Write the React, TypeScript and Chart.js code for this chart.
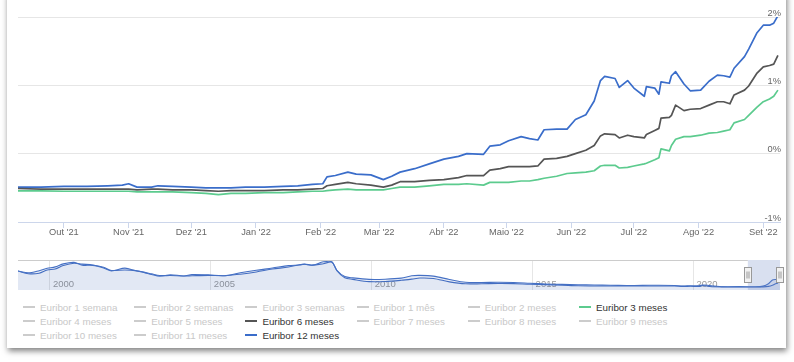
import React, { useEffect, useRef } from 'react';
import { Chart, registerables } from 'chart.js';

Chart.register(...registerables);

// ---------- Main chart data (Euribor, %) ----------
const mainDates = [
  '2021-09-09', '2021-09-20', '2021-10-01', '2021-10-12', '2021-10-22', '2021-10-29', '2021-11-01', '2021-11-05',
  '2021-11-12', '2021-11-15', '2021-11-22', '2021-12-01', '2021-12-08', '2021-12-14', '2021-12-20', '2021-12-27',
  '2022-01-05', '2022-01-14', '2022-01-21', '2022-01-28', '2022-02-02', '2022-02-04', '2022-02-08', '2022-02-14',
  '2022-02-18', '2022-02-25', '2022-03-03', '2022-03-07', '2022-03-11', '2022-03-18', '2022-03-25', '2022-04-01',
  '2022-04-08', '2022-04-12', '2022-04-20', '2022-04-23', '2022-04-28', '2022-05-02', '2022-05-08', '2022-05-12',
  '2022-05-16', '2022-05-19', '2022-05-25', '2022-05-30', '2022-06-03', '2022-06-08', '2022-06-12', '2022-06-15',
  '2022-06-17', '2022-06-22', '2022-06-24', '2022-06-28', '2022-07-01', '2022-07-06', '2022-07-07', '2022-07-11',
  '2022-07-13', '2022-07-14', '2022-07-18', '2022-07-19', '2022-07-21', '2022-07-25', '2022-07-28', '2022-08-02',
  '2022-08-06', '2022-08-10', '2022-08-13', '2022-08-16', '2022-08-18', '2022-08-23', '2022-08-25', '2022-08-29',
  '2022-09-01', '2022-09-04', '2022-09-06', '2022-09-08',
];

const euribor12m = [
  -0.49, -0.49, -0.48, -0.48, -0.47, -0.46, -0.44, -0.49,
  -0.49, -0.47, -0.48, -0.49, -0.50, -0.50, -0.50, -0.49,
  -0.49, -0.48, -0.47, -0.45, -0.44, -0.34, -0.32, -0.27,
  -0.30, -0.31, -0.38, -0.33, -0.27, -0.22, -0.15, -0.08,
  -0.04, 0.00, -0.01, 0.11, 0.13, 0.19, 0.25, 0.22,
  0.20, 0.35, 0.36, 0.36, 0.50, 0.57, 0.77, 1.07,
  1.13, 1.10, 0.97, 1.07, 0.96, 0.84, 0.98, 0.96,
  0.87, 1.05, 1.03, 1.14, 1.20, 1.02, 0.92, 0.93,
  1.06, 1.15, 1.14, 1.12, 1.25, 1.42, 1.53, 1.77,
  1.88, 1.88, 1.91, 2.02,
];

const euribor6m = [
  -0.51, -0.52, -0.52, -0.52, -0.52, -0.52, -0.52, -0.53,
  -0.52, -0.52, -0.53, -0.53, -0.54, -0.55, -0.54, -0.54,
  -0.54, -0.53, -0.53, -0.52, -0.51, -0.47, -0.45, -0.42,
  -0.44, -0.46, -0.49, -0.46, -0.41, -0.41, -0.39, -0.38,
  -0.35, -0.32, -0.32, -0.24, -0.22, -0.19, -0.19, -0.19,
  -0.18, -0.08, -0.07, -0.04, 0.00, 0.05, 0.12, 0.26,
  0.29, 0.28, 0.23, 0.27, 0.25, 0.23, 0.28, 0.34,
  0.37, 0.52, 0.53, 0.56, 0.71, 0.63, 0.65, 0.66,
  0.71, 0.76, 0.76, 0.73, 0.86, 0.93, 0.99, 1.18,
  1.27, 1.29, 1.31, 1.44,
];

const euribor3m = [
  -0.545, -0.545, -0.55, -0.55, -0.55, -0.55, -0.55, -0.56,
  -0.56, -0.56, -0.56, -0.57, -0.58, -0.60, -0.58, -0.58,
  -0.57, -0.57, -0.56, -0.55, -0.55, -0.54, -0.53, -0.52,
  -0.53, -0.53, -0.53, -0.51, -0.49, -0.49, -0.47, -0.45,
  -0.45, -0.44, -0.46, -0.42, -0.42, -0.42, -0.40, -0.40,
  -0.38, -0.36, -0.33, -0.29, -0.28, -0.27, -0.25, -0.18,
  -0.17, -0.17, -0.21, -0.20, -0.18, -0.15, -0.14, -0.09,
  -0.06, 0.07, 0.04, 0.12, 0.21, 0.25, 0.25, 0.27,
  0.30, 0.31, 0.33, 0.35, 0.45, 0.50, 0.56, 0.68,
  0.76, 0.80, 0.84, 0.93,
];

const monthTickDates = [
  '2021-10-01', '2021-11-01', '2021-12-01', '2022-01-01', '2022-02-01', '2022-03-01',
  '2022-04-01', '2022-05-01', '2022-06-01', '2022-07-01', '2022-08-01', '2022-09-01',
];
const monthTickLabels = [
  "Out '21", "Nov '21", "Dez '21", "Jan '22", "Feb '22", "Mar '22",
  "Abr '22", "Maio '22", "Jun '22", "Jul '22", "Ago '22", "Set '22",
];
const yTickValues = [-1, 0, 1, 2];
const yTickLabels = ['-1%', '0%', '1%', '2%'];

// ---------- Navigator data ----------
const navDates = [
  '1999-01-04', '1999-05-01', '1999-09-01', '1999-12-01', '2000-03-01', '2000-06-01', '2000-10-01', '2001-01-01',
  '2001-05-01', '2001-09-01', '2001-12-01', '2002-05-01', '2002-09-01', '2002-12-01', '2003-03-01', '2003-06-01',
  '2003-10-01', '2004-03-01', '2004-06-01', '2004-12-01', '2005-06-01', '2005-12-01', '2006-06-01', '2006-12-01',
  '2007-06-01', '2007-10-01', '2007-12-01', '2008-03-01', '2008-07-01', '2008-10-06', '2008-12-01', '2009-03-01',
  '2009-06-01', '2009-12-01', '2010-06-01', '2010-12-01', '2011-04-01', '2011-07-01', '2011-12-01', '2012-06-01',
  '2012-12-01', '2013-06-01', '2013-12-01', '2014-06-01', '2014-12-01', '2015-06-01', '2015-12-01', '2016-06-01',
  '2016-12-01', '2017-06-01', '2017-12-01', '2018-06-01', '2018-12-01', '2019-06-01', '2019-09-01', '2019-12-01',
  '2020-03-01', '2020-04-20', '2020-07-01', '2020-12-01', '2021-06-01', '2021-12-01', '2022-03-01', '2022-05-01',
  '2022-06-15', '2022-07-21', '2022-08-10', '2022-09-08',
];
const nav12m = [
  3.21, 2.80, 3.30, 3.85, 4.20, 4.90, 5.25, 4.60,
  4.55, 3.95, 3.25, 3.90, 3.30, 2.90, 2.40, 2.00,
  2.35, 2.05, 2.40, 2.30, 2.10, 2.80, 3.40, 3.92,
  4.50, 4.65, 4.80, 4.60, 5.39, 5.40, 3.40, 1.90,
  1.60, 1.25, 1.28, 1.53, 2.10, 2.18, 2.00, 1.22,
  0.55, 0.50, 0.55, 0.51, 0.33, 0.16, 0.06, -0.03,
  -0.08, -0.15, -0.19, -0.18, -0.13, -0.19, -0.34, -0.26,
  -0.27, -0.08, -0.21, -0.50, -0.48, -0.50, -0.35, 0.20,
  1.08, 1.20, 1.15, 2.00,
];
const nav3m = [
  3.23, 2.58, 2.70, 3.45, 3.70, 4.50, 5.05, 4.85,
  4.65, 4.10, 3.35, 3.45, 3.30, 2.95, 2.55, 2.15,
  2.15, 2.05, 2.10, 2.18, 2.11, 2.47, 2.99, 3.68,
  4.15, 4.70, 4.85, 4.60, 4.95, 5.30, 3.30, 1.60,
  1.25, 0.71, 0.73, 1.02, 1.30, 1.55, 1.45, 0.66,
  0.19, 0.21, 0.27, 0.24, 0.08, -0.01, -0.13, -0.27,
  -0.32, -0.33, -0.33, -0.32, -0.31, -0.33, -0.42, -0.40,
  -0.45, -0.20, -0.44, -0.54, -0.54, -0.57, -0.53, -0.42,
  -0.16, 0.23, 0.33, 0.93,
];
const yearTickDates = ['2000-01-01', '2005-01-01', '2010-01-01', '2015-01-01', '2020-01-01'];
const yearTickLabels = ['2000', '2005', '2010', '2015', '2020'];

// ---------- Legend ----------
const legendNames = [
  'Euribor 1 semana', 'Euribor 2 semanas', 'Euribor 3 semanas', 'Euribor 1 mês', 'Euribor 2 meses', 'Euribor 3 meses',
  'Euribor 4 meses', 'Euribor 5 meses', 'Euribor 6 meses', 'Euribor 7 meses', 'Euribor 8 meses', 'Euribor 9 meses',
  'Euribor 10 meses', 'Euribor 11 meses', 'Euribor 12 meses',
];
const seriesColors: Record<string, string> = {
  'Euribor 3 meses': '#5ccb8e',
  'Euribor 6 meses': '#555555',
  'Euribor 12 meses': '#3a6dca',
};

const FONT = "'Liberation Sans', Arial, sans-serif";
const t = (s: string) => Date.parse(s);
const rangeMin = t('2021-09-09');
const rangeMax = t('2022-09-09');
const navMin = t('1999-01-04');

export default function App() {
  const mainRef = useRef<HTMLCanvasElement | null>(null);
  const navRef = useRef<HTMLCanvasElement | null>(null);

  useEffect(() => {
    if (!mainRef.current || !navRef.current) return;

    const mk = (vals: number[]) => mainDates.map((d, i) => ({ x: t(d), y: vals[i] }));
    const line = (label: string, vals: number[]) => ({
      label,
      data: mk(vals),
      borderColor: seriesColors[label],
      borderWidth: 1.7,
      pointRadius: 0,
      tension: 0,
      borderJoinStyle: 'round' as const,
      fill: false,
    });

    const main = new Chart(mainRef.current, {
      type: 'line',
      data: {
        datasets: [
          line('Euribor 3 meses', euribor3m),
          line('Euribor 6 meses', euribor6m),
          line('Euribor 12 meses', euribor12m),
        ],
      },
      options: {
        animation: false,
        responsive: false,
        maintainAspectRatio: false,
        layout: { padding: { left: 18, right: 14, top: 17, bottom: 0 } },
        plugins: { legend: { display: false }, tooltip: { enabled: false } },
        scales: {
          x: {
            type: 'linear',
            min: rangeMin,
            max: rangeMax,
            afterBuildTicks: (s: any) => {
              s.ticks = monthTickDates.map((d) => ({ value: t(d) }));
            },
            afterFit: (s: any) => {
              s.height = 28;
            },
            grid: { drawOnChartArea: false, drawTicks: true, tickLength: 6, color: '#ccd6eb' },
            border: { color: '#ccd6eb', width: 1 },
            ticks: {
              autoSkip: false,
              maxRotation: 0,
              padding: -1,
              color: '#666666',
              font: { family: FONT, size: 9.3 },
              callback: (v: any) => {
                const i = monthTickDates.findIndex((d) => t(d) === v);
                return i >= 0 ? monthTickLabels[i] : '';
              },
            },
          },
          y: {
            position: 'right',
            min: -1,
            max: 2,
            afterBuildTicks: (s: any) => {
              s.ticks = yTickValues.map((v) => ({ value: v }));
            },
            afterFit: (s: any) => {
              s.width = 0;
            },
            grid: { color: '#e6e6e6', drawTicks: false },
            border: { display: false },
            ticks: {
              mirror: true,
              padding: 1,
              labelOffset: -4,
              color: '#666666',
              font: { family: FONT, size: 9.3 },
              callback: (v: any) => {
                const i = yTickValues.indexOf(v);
                return i >= 0 ? yTickLabels[i] : '';
              },
            },
          },
        },
      },
    });

    const navPlugin = {
      id: 'navExtras',
      beforeDatasetsDraw(chart: any) {
        const { ctx, chartArea, scales } = chart;
        ctx.save();
        ctx.font = `9.5px ${FONT}`;
        ctx.fillStyle = '#999999';
        ctx.textAlign = 'left';
        ctx.textBaseline = 'middle';
        yearTickDates.forEach((d, i) => {
          const x = scales.x.getPixelForValue(t(d));
          ctx.fillText(yearTickLabels[i], x + 3, chartArea.bottom - 6);
        });
        ctx.restore();
      },
      afterDatasetsDraw(chart: any) {
        const { ctx, chartArea, scales } = chart;
        const x1 = scales.x.getPixelForValue(rangeMin);
        const x2 = scales.x.getPixelForValue(rangeMax);
        ctx.save();
        ctx.fillStyle = 'rgba(102,133,194,0.25)';
        ctx.fillRect(x1, chartArea.top, x2 - x1, chartArea.bottom - chartArea.top);
        ctx.strokeStyle = '#cccccc';
        ctx.lineWidth = 1;
        ctx.beginPath();
        ctx.moveTo(chartArea.left, chartArea.top + 0.5);
        ctx.lineTo(x1, chartArea.top + 0.5);
        ctx.stroke();
        const mid = (chartArea.top + chartArea.bottom) / 2;
        [x1, x2].forEach((x) => {
          const hx = Math.round(x) - 3.5;
          ctx.fillStyle = '#f2f2f2';
          ctx.strokeStyle = '#999999';
          ctx.fillRect(hx, mid - 7.5, 7, 15);
          ctx.strokeRect(hx, mid - 7.5, 7, 15);
          ctx.beginPath();
          ctx.moveTo(hx + 2.5, mid - 3.5);
          ctx.lineTo(hx + 2.5, mid + 3.5);
          ctx.moveTo(hx + 4.5, mid - 3.5);
          ctx.lineTo(hx + 4.5, mid + 3.5);
          ctx.stroke();
        });
        ctx.restore();
      },
    };

    const mkNav = (vals: number[]) => navDates.map((d, i) => ({ x: t(d), y: vals[i] }));
    const nav = new Chart(navRef.current, {
      type: 'line',
      data: {
        datasets: [
          {
            data: mkNav(nav12m),
            borderColor: '#4570c4',
            borderWidth: 1.1,
            pointRadius: 0,
            tension: 0.3,
            fill: 'start',
            backgroundColor: 'rgba(51,92,173,0.11)',
          },
          {
            data: mkNav(nav3m),
            borderColor: '#4570c4',
            borderWidth: 1.1,
            pointRadius: 0,
            tension: 0.3,
            fill: 'start',
            backgroundColor: 'rgba(51,92,173,0.04)',
          },
        ],
      },
      options: {
        animation: false,
        responsive: false,
        maintainAspectRatio: false,
        layout: { padding: { left: 18, right: 14, top: 5, bottom: 5 } },
        plugins: { legend: { display: false }, tooltip: { enabled: false } },
        scales: {
          x: {
            type: 'linear',
            min: navMin,
            max: rangeMax,
            afterBuildTicks: (s: any) => {
              s.ticks = yearTickDates.map((d) => ({ value: t(d) }));
            },
            afterFit: (s: any) => {
              s.height = 0;
            },
            grid: { color: '#e6e6e6', drawTicks: false },
            border: { display: false },
            ticks: { display: false },
          },
          y: { display: false, min: -1.27, max: 5.82 },
        },
      },
      plugins: [navPlugin],
    });

    return () => {
      main.destroy();
      nav.destroy();
    };
  }, []);

  return (
    <div style={{ position: 'fixed', left: 0, top: 0, width: 794, height: 362, overflow: 'hidden', background: '#ffffff' }}>
      <div
        style={{
          position: 'absolute',
          left: 7,
          top: -8,
          width: 779,
          height: 356,
          background: '#ffffff',
          boxShadow: '1px 3px 6px rgba(0,0,0,0.5)',
        }}
      />
      <canvas ref={mainRef} width={794} height={250} style={{ position: 'absolute', left: 0, top: 0, width: 794, height: 250 }} />
      <canvas ref={navRef} width={794} height={40} style={{ position: 'absolute', left: 0, top: 255, width: 794, height: 40 }} />
      {legendNames.map((name, i) => {
        const row = Math.floor(i / 6);
        const col = i % 6;
        const color = seriesColors[name];
        const visible = !!color;
        return (
          <div
            key={name}
            style={{
              position: 'absolute',
              left: 23 + col * 111.2,
              top: 300 + row * 14.2,
              height: 14.2,
              display: 'flex',
              alignItems: 'center',
              whiteSpace: 'nowrap',
              fontFamily: FONT,
              fontSize: 9.8,
              color: visible ? '#333333' : '#c8c8c8',
            }}
          >
            <span
              style={{
                display: 'inline-block',
                width: 12,
                height: 2,
                background: visible ? color : '#cccccc',
                marginRight: 5,
              }}
            />
            <span>{name}</span>
          </div>
        );
      })}
    </div>
  );
}
